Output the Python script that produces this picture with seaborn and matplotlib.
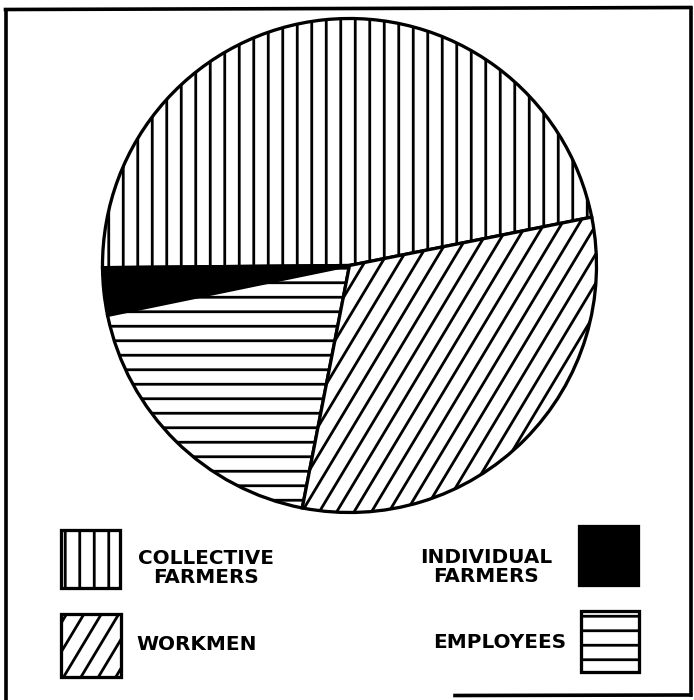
import numpy as np
import matplotlib
matplotlib.use("Agg")
import matplotlib.pyplot as plt
import matplotlib.hatch as mhatch
from matplotlib.patches import Rectangle
from matplotlib.lines import Line2D
import seaborn as sns

# ---------------- data ----------------
categories = ["COLLECTIVE\nFARMERS", "INDIVIDUAL\nFARMERS", "EMPLOYEES", "WORKMEN"]
shares = [47.0, 3.1, 18.7, 31.2]          # percent of population
face_colors = ["white", "black", "white", "white"]
hatches = ["|", "", "-", "/"]

# ---------------- style ----------------
sns.set_style("white")
plt.rcParams["font.family"] = ["DejaVu Sans"]
plt.rcParams["hatch.linewidth"] = 2.3
plt.rcParams["hatch.color"] = "black"


# steeper, slightly wider diagonal hatch (about 60 degrees) like the engraved original
class SteepHatch(mhatch.HatchPatternBase):
    def __init__(self, hatch, density):
        self.num_lines = int(round((hatch.count('/') + hatch.count('x') + hatch.count('X'))
                                   * density * 5 / 6))
        self.num_vertices = (2 * self.num_lines + 1) * 2 if self.num_lines else 0

    def set_vertices_and_codes(self, vertices, codes):
        n = self.num_lines
        shift = int(np.ceil(0.5 * n)) / n
        x0 = np.linspace(-1.0, 1.0, 2 * n + 1)
        vertices[0::2, 0] = x0
        vertices[0::2, 1] = 0.0
        vertices[1::2, 0] = x0 + shift
        vertices[1::2, 1] = 1.0
        codes[0::2] = mhatch.Path.MOVETO
        codes[1::2] = mhatch.Path.LINETO


mhatch._hatch_types[mhatch._hatch_types.index(mhatch.NorthEastHatch)] = SteepHatch

W, H, DPI = 694, 700, 87
fig = plt.figure(figsize=(W / DPI, H / DPI), dpi=DPI)
fig.patch.set_facecolor("white")

# ---------------- pie ----------------
cx, cy, r = 349.5, 265.5, 247.0
ax = fig.add_axes([(cx - r) / W, (H - cy - r) / H, 2 * r / W, 2 * r / H])
wedges, _ = ax.pie(shares, colors=face_colors, hatch=hatches, startangle=11.3,
                   counterclock=True, radius=1.0,
                   wedgeprops=dict(edgecolor="black", linewidth=2.7))
for w in wedges:
    w.set_clip_on(False)
ax.set_xlim(-1, 1)
ax.set_ylim(-1, 1)
ax.set_aspect("equal")
ax.axis("off")

# ---------------- legend (keys take hatch / colour from the wedges) ----------------
legend_layout = {
    "COLLECTIVE\nFARMERS": dict(box=(61, 530, 120, 588), text=(206, 568), ha="center"),
    "WORKMEN": dict(box=(61, 614, 121, 677), text=(136, 645), ha="left"),
    "INDIVIDUAL\nFARMERS": dict(box=(579, 526, 638, 585), text=(486, 567), ha="center"),
    "EMPLOYEES": dict(box=(581, 611, 639, 672), text=(566, 643), ha="right"),
}
for cat, w in zip(categories, wedges):
    lay = legend_layout[cat]
    x0, y0, x1, y1 = lay["box"]
    rect = Rectangle((x0 / W, 1 - y1 / H), (x1 - x0) / W, (y1 - y0) / H,
                     transform=fig.transFigure, facecolor=w.get_facecolor(),
                     edgecolor="black", linewidth=2.7, hatch=w.get_hatch())
    fig.add_artist(rect)
    tx, ty = lay["text"]
    fig.text(tx / W, 1 - ty / H, cat, ha=lay["ha"], va="center",
             multialignment="center", fontsize=16.5, fontweight="bold",
             linespacing=1.0, color="black")

# ---------------- outer frame ----------------
frame_kw = dict(transform=fig.transFigure, color="black", linewidth=3.0,
                solid_capstyle="projecting")
fig.add_artist(Line2D([5.5 / W, 5.5 / W], [1 - 9.5 / H, 0.0], **frame_kw))
fig.add_artist(Line2D([5.5 / W, 690.5 / W], [1 - 9.5 / H, 1 - 7.5 / H], **frame_kw))
fig.add_artist(Line2D([690.5 / W, 690.5 / W], [1 - 7.5 / H, 1 - 695 / H], **frame_kw))
fig.add_artist(Line2D([455 / W, 690.5 / W], [1 - 695.5 / H, 1 - 695 / H], **frame_kw))

fig.savefig("out.png", dpi=DPI, facecolor="white")
